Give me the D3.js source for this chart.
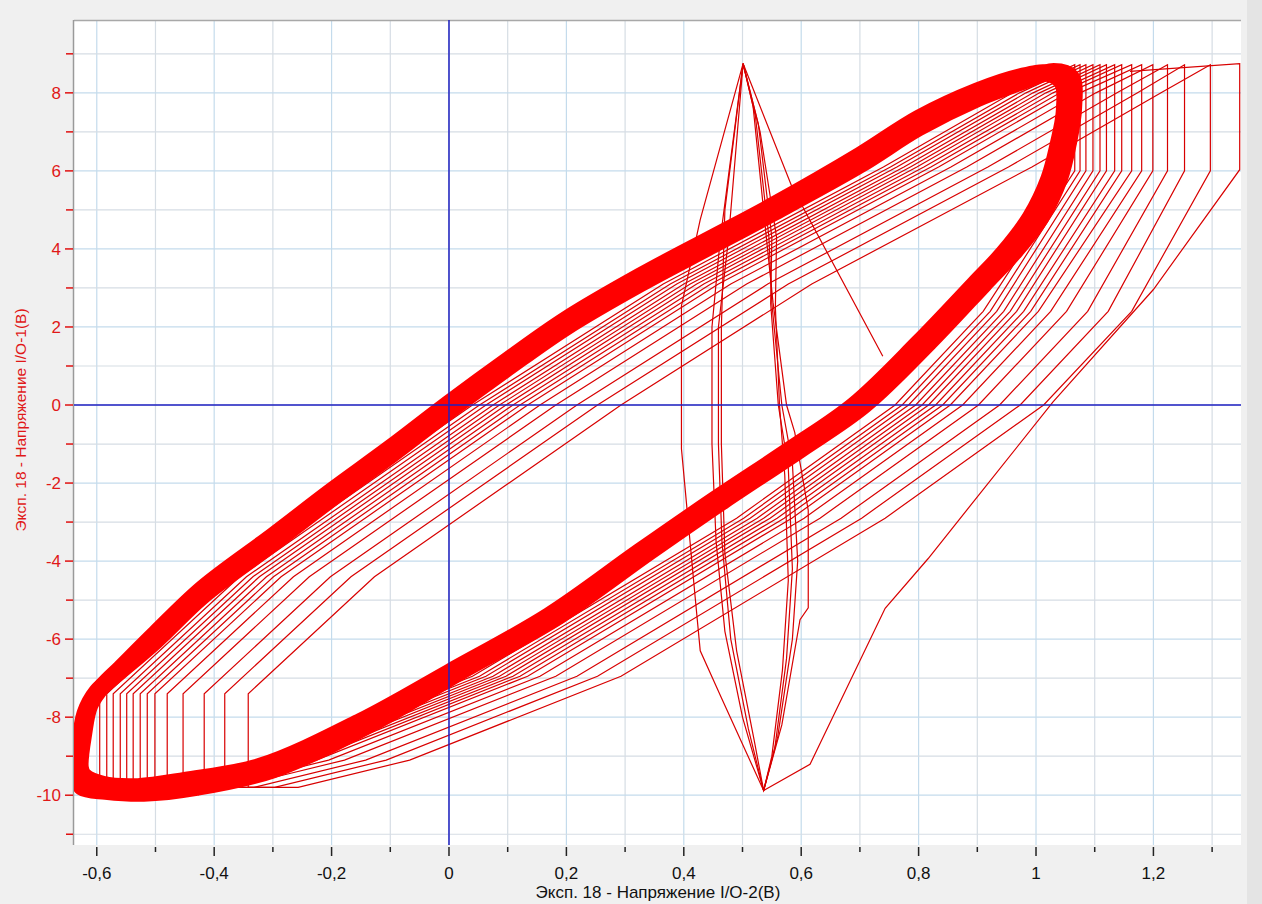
<!DOCTYPE html>
<html><head><meta charset="utf-8">
<script src="https://cdn.jsdelivr.net/npm/d3@7"></script>
<style>
html,body{margin:0;padding:0;background:#f0f0f0;}
svg{display:block;}
text{font-family:"Liberation Sans",Arial,sans-serif;}
</style></head><body>
<svg id="chart" width="1262" height="904"></svg>
<script>
// ---------- axes data ----------
const xDomain = [-0.6388, 1.3492];
const yDomain = [-11.276, 9.867];
const xTicksMajor = [-0.6, -0.4, -0.2, 0, 0.2, 0.4, 0.6, 0.8, 1, 1.2];
const xTickLabels = ["-0,6", "-0,4", "-0,2", "0", "0,2", "0,4", "0,6", "0,8", "1", "1,2"];
const xTicksMinor = [-0.5, -0.3, -0.1, 0.1, 0.3, 0.5, 0.7, 0.9, 1.1, 1.3];
const yTicksMajor = [-10, -8, -6, -4, -2, 0, 2, 4, 6, 8];
const yTickLabels = ["-10", "-8", "-6", "-4", "-2", "0", "2", "4", "6", "8"];
const yTicksMinor = [-11, -9, -7, -5, -3, -1, 1, 3, 5, 7, 9];
const xTitle = "Эксп. 18 - Напряжение I/O-2(В)";
const yTitle = "Эксп. 18 - Напряжение I/O-1(В)";

// ---------- series data (x = I/O-2 volts, y = I/O-1 volts) ----------
// steady-state hysteresis loop (dense band of many cycles)
const coreLoop = [
  [-0.628, -9.3], [-0.622, -8.4], [-0.612, -7.7], [-0.59, -7.2], [-0.56, -6.75],
  [-0.50, -5.85], [-0.42, -4.7], [-0.30, -3.35], [-0.20, -2.2], [-0.10, -1.1],
  [0.00, 0.05], [0.10, 1.15], [0.20, 2.2], [0.325, 3.3], [0.45, 4.3], [0.55, 5.1],
  [0.70, 6.4], [0.80, 7.35], [0.90, 8.05], [0.97, 8.4], [1.02, 8.5], [1.045, 8.25],
  [1.048, 7.5], [1.038, 6.7], [1.022, 5.8], [0.99, 4.8], [0.945, 3.9], [0.895, 3.1],
  [0.80, 1.6], [0.69, 0.0], [0.58, -1.15], [0.45, -2.45], [0.325, -3.75], [0.17, -5.4],
  [0.00, -6.85], [-0.15, -8.1], [-0.32, -9.25], [-0.45, -9.62], [-0.53, -9.78],
  [-0.59, -9.72], [-0.622, -9.5]
];
// neighbouring cycles that widen the band
const coreLoopB = [
  [-0.632, -9.6], [-0.628, -8.6], [-0.62, -7.9], [-0.6, -7.35], [-0.57, -6.95],
  [-0.50, -6.05], [-0.42, -4.9], [-0.30, -3.55], [-0.20, -2.4], [-0.10, -1.3],
  [0.00, -0.15], [0.10, 0.95], [0.20, 2.0], [0.325, 3.1], [0.45, 4.1], [0.55, 4.9],
  [0.70, 6.15], [0.80, 7.1], [0.90, 7.85], [0.97, 8.25], [1.03, 8.55], [1.06, 8.4],
  [1.064, 7.6], [1.055, 6.7], [1.04, 5.8], [1.008, 4.8], [0.962, 3.9], [0.912, 3.1],
  [0.818, 1.6], [0.708, 0.0], [0.598, -1.15], [0.468, -2.45], [0.343, -3.75], [0.188, -5.4],
  [0.018, -6.85], [-0.13, -8.15], [-0.30, -9.35], [-0.43, -9.8], [-0.52, -9.95],
  [-0.585, -9.9], [-0.625, -9.8]
];
const coreLoops = [coreLoop, coreLoopB];

// transient cycles, drifting toward the steady loop
const loopS1 = [[-0.342,-9.8],[-0.342,-7.4],[-0.127,-4.4],[0.293,0],[0.618,3.1],[0.993,6.1],[1.213,8.0],[1.297,8.72],[1.297,6.0],[1.163,2.4],[1.013,0],[0.743,-2.9],[0.293,-6.95],[-0.067,-9.1],[-0.257,-9.8]];
const loopS2 = [[-0.382,-9.8],[-0.382,-7.4],[-0.167,-4.4],[0.253,0],[0.578,3.1],[0.953,6.1],[1.173,8.0],[1.253,8.72],[1.253,6.0],[1.123,2.4],[0.973,0],[0.703,-2.9],[0.253,-6.95],[-0.107,-9.1],[-0.297,-9.8]];
const loopS3 = [[-0.417,-9.8],[-0.417,-7.4],[-0.202,-4.4],[0.218,0],[0.543,3.1],[0.918,6.1],[1.138,8.0],[1.224,8.72],[1.224,6.0],[1.088,2.4],[0.938,0],[0.668,-2.9],[0.218,-6.95],[-0.142,-9.1],[-0.332,-9.8]];
const loopS4 = [[-0.453,-9.8],[-0.453,-7.4],[-0.238,-4.4],[0.182,0],[0.507,3.1],[0.882,6.1],[1.102,8.0],[1.199,8.72],[1.199,6.0],[1.052,2.4],[0.902,0],[0.632,-2.9],[0.182,-6.95],[-0.178,-9.1],[-0.368,-9.8]];
const loopS5 = [[-0.48,-9.8],[-0.48,-7.4],[-0.265,-4.4],[0.155,0],[0.48,3.1],[0.855,6.1],[1.075,8.0],[1.18,8.72],[1.18,6.0],[1.025,2.4],[0.875,0],[0.605,-2.9],[0.155,-6.95],[-0.205,-9.1],[-0.395,-9.8]];
const loopS6 = [[-0.501,-9.8],[-0.501,-7.4],[-0.286,-4.4],[0.134,0],[0.459,3.1],[0.834,6.1],[1.054,8.0],[1.163,8.72],[1.163,6.0],[1.004,2.4],[0.854,0],[0.584,-2.9],[0.134,-6.95],[-0.226,-9.1],[-0.416,-9.8]];
const loopS7 = [[-0.514,-9.8],[-0.514,-7.4],[-0.299,-4.4],[0.121,0],[0.446,3.1],[0.821,6.1],[1.041,8.0],[1.146,8.72],[1.146,6.0],[0.991,2.4],[0.841,0],[0.571,-2.9],[0.121,-6.95],[-0.239,-9.1],[-0.429,-9.8]];
const loopS8 = [[-0.526,-9.8],[-0.526,-7.4],[-0.311,-4.4],[0.109,0],[0.434,3.1],[0.809,6.1],[1.029,8.0],[1.134,8.72],[1.134,6.0],[0.979,2.4],[0.829,0],[0.559,-2.9],[0.109,-6.95],[-0.251,-9.1],[-0.441,-9.8]];
const loopS9 = [[-0.538,-9.8],[-0.538,-7.4],[-0.323,-4.4],[0.097,0],[0.422,3.1],[0.797,6.1],[1.017,8.0],[1.12,8.72],[1.12,6.0],[0.967,2.4],[0.817,0],[0.547,-2.9],[0.097,-6.95],[-0.263,-9.1],[-0.453,-9.8]];
const loopS10 = [[-0.549,-9.8],[-0.549,-7.4],[-0.334,-4.4],[0.086,0],[0.411,3.1],[0.786,6.1],[1.006,8.0],[1.109,8.72],[1.109,6.0],[0.956,2.4],[0.806,0],[0.536,-2.9],[0.086,-6.95],[-0.274,-9.1],[-0.464,-9.8]];
const loopS11 = [[-0.56,-9.8],[-0.56,-7.4],[-0.345,-4.4],[0.075,0],[0.4,3.1],[0.775,6.1],[0.995,8.0],[1.097,8.72],[1.097,6.0],[0.945,2.4],[0.795,0],[0.525,-2.9],[0.075,-6.95],[-0.285,-9.1],[-0.475,-9.8]];
const loopS12 = [[-0.572,-9.8],[-0.572,-7.4],[-0.357,-4.4],[0.063,0],[0.388,3.1],[0.763,6.1],[0.983,8.0],[1.085,8.72],[1.085,6.0],[0.933,2.4],[0.783,0],[0.513,-2.9],[0.063,-6.95],[-0.297,-9.1],[-0.487,-9.8]];
const loopS13 = [[-0.583,-9.8],[-0.583,-7.4],[-0.368,-4.4],[0.052,0],[0.377,3.1],[0.752,6.1],[0.972,8.0],[1.075,8.72],[1.075,6.0],[0.922,2.4],[0.772,0],[0.502,-2.9],[0.052,-6.95],[-0.308,-9.1],[-0.498,-9.8]];
const loopS14 = [[-0.595,-9.8],[-0.595,-7.4],[-0.38,-4.4],[0.04,0],[0.365,3.1],[0.74,6.1],[0.96,8.0],[1.066,8.72],[1.066,6.0],[0.91,2.4],[0.76,0],[0.49,-2.9],[0.04,-6.95],[-0.32,-9.1],[-0.51,-9.8]];
const transientLoops = [loopS1, loopS2, loopS3, loopS4, loopS5, loopS6, loopS7, loopS8, loopS9, loopS10, loopS11, loopS12, loopS13, loopS14];

// initial cycles where I/O-2 barely moves (lens shapes)
const lens1 = [[0.501,8.75],[0.428,4.75],[0.396,2.54],[0.396,-1.12],[0.419,-4.87],[0.428,-6.3],[0.464,-7.5],[0.536,-9.88],[0.567,-8.2],[0.598,-5.5],[0.612,-5.2],[0.612,-2.7],[0.589,-0.7],[0.575,0],[0.552,2.63],[0.541,4.24],[0.518,7.66]];
const lens2 = [[0.501,8.75],[0.462,4.24],[0.448,2.0],[0.448,-1.0],[0.455,-3.5],[0.47,-5.8],[0.50,-8.0],[0.536,-9.88],[0.56,-8.5],[0.585,-6.0],[0.594,-4.0],[0.585,-1.5],[0.567,0],[0.55,2.6],[0.545,4.3],[0.522,7.4]];
const lens3 = [[0.501,8.75],[0.476,4.24],[0.459,2.0],[0.459,-1.0],[0.465,-3.5],[0.48,-6.0],[0.51,-8.3],[0.536,-9.88],[0.555,-8.8],[0.575,-6.5],[0.585,-4.2],[0.578,-1.6],[0.561,0],[0.548,2.6],[0.55,4.3],[0.527,7.2]];
const lens4 = [[0.501,8.75],[0.47,5.0],[0.464,2.0],[0.464,-1.0],[0.47,-3.8],[0.49,-6.3],[0.52,-8.6],[0.536,-9.88],[0.55,-9.0],[0.568,-6.8],[0.578,-4.5],[0.572,-1.8],[0.563,0],[0.556,2.5],[0.558,4.3],[0.53,7.0]];
const lensLoops = [lens1, lens2, lens3, lens4];
const lensTopLink = [[0.501,8.75],[0.584,5.6],[0.739,1.25]];
const lensBottomLink = [[1.16,8.55],[1.347,8.75],[1.347,6.03],[1.2,2.96],[1.029,0.08],[0.816,-3.94],[0.743,-5.21],[0.615,-9.21],[0.536,-9.88]];

// ---------- layout ----------
const plot = {left: 74, right: 1241, top: 20, bottom: 845};
const svg = d3.select("#chart");
const x = d3.scaleLinear().domain(xDomain).range([plot.left, plot.right]);
const y = d3.scaleLinear().domain(yDomain).range([plot.bottom, plot.top]);

svg.append("rect").attr("x", 0).attr("y", 0).attr("width", 1262).attr("height", 904).attr("fill", "#f0f0f0");
svg.append("rect").attr("x", 1247).attr("y", 0).attr("width", 15).attr("height", 904).attr("fill", "#e4e4e4");
svg.append("rect").attr("x", plot.left).attr("y", plot.top)
   .attr("width", plot.right - plot.left).attr("height", plot.bottom - plot.top).attr("fill", "#ffffff");

svg.append("clipPath").attr("id", "clip").append("rect")
   .attr("x", plot.left).attr("y", plot.top)
   .attr("width", plot.right - plot.left).attr("height", plot.bottom - plot.top);

// grid
const grid = svg.append("g");
grid.selectAll(".gx").data(xTicksMajor.concat(xTicksMinor)).enter().append("line")
  .attr("x1", d => x(d)).attr("x2", d => x(d)).attr("y1", plot.top).attr("y2", plot.bottom)
  .attr("stroke", (d, i) => i < xTicksMajor.length ? "#c4dbec" : "#d6dde4").attr("stroke-width", 1.2);
grid.selectAll(".gy").data(yTicksMajor.concat(yTicksMinor)).enter().append("line")
  .attr("y1", d => y(d)).attr("y2", d => y(d)).attr("x1", plot.left).attr("x2", plot.right)
  .attr("stroke", (d, i) => i < yTicksMajor.length ? "#c4dbec" : "#d6dde4").attr("stroke-width", 1.2);

// frame
svg.append("line").attr("x1", plot.left).attr("x2", plot.right).attr("y1", plot.top + 0.5).attr("y2", plot.top + 0.5)
   .attr("stroke", "#a8a8a8").attr("stroke-width", 1.5);
svg.append("line").attr("x1", plot.left - 0.5).attr("x2", plot.left - 0.5).attr("y1", plot.top).attr("y2", plot.bottom)
   .attr("stroke", "#9a9a9a").attr("stroke-width", 1.5);

const data = svg.append("g").attr("clip-path", "url(#clip)");
const lineOpen = d3.line().x(d => x(d[0])).y(d => y(d[1]));
const lineClosed = d3.line().x(d => x(d[0])).y(d => y(d[1])).curve(d3.curveLinearClosed);
const lineSmoothClosed = d3.line().x(d => x(d[0])).y(d => y(d[1])).curve(d3.curveCatmullRomClosed.alpha(0.5));

// transient cycles
data.selectAll(".tl").data(transientLoops).enter().append("path")
  .attr("d", d => lineClosed(d)).attr("fill", "none")
  .attr("stroke", "#d80000").attr("stroke-width", 1.2);

data.selectAll(".lens").data(lensLoops).enter().append("path")
  .attr("d", d => lineClosed(d)).attr("fill", "none")
  .attr("stroke", "#d80000").attr("stroke-width", 1.2);
data.append("path").attr("d", lineOpen(lensTopLink)).attr("fill", "none").attr("stroke", "#d80000").attr("stroke-width", 1.2);
data.append("path").attr("d", lineOpen(lensBottomLink)).attr("fill", "none").attr("stroke", "#d80000").attr("stroke-width", 1.2);

// thick steady band
data.selectAll(".core").data(coreLoops).enter().append("path")
  .attr("d", d => lineSmoothClosed(d)).attr("fill", "none")
  .attr("stroke", "#ff0000").attr("stroke-width", 17).attr("stroke-linejoin", "round");

// zero crosshair
data.append("line").attr("x1", x(0)).attr("x2", x(0)).attr("y1", plot.top).attr("y2", plot.bottom)
  .attr("stroke", "#2020c0").attr("stroke-width", 1.5);
data.append("line").attr("y1", y(0)).attr("y2", y(0)).attr("x1", plot.left).attr("x2", plot.right)
  .attr("stroke", "#2020c0").attr("stroke-width", 1.5);

// x axis ticks
const ax = svg.append("g");
ax.selectAll(".xtM").data(xTicksMajor).enter().append("line")
  .attr("x1", d => x(d)).attr("x2", d => x(d)).attr("y1", plot.bottom + 2).attr("y2", plot.bottom + 11)
  .attr("stroke", "#222").attr("stroke-width", 1.5);
ax.selectAll(".xtm").data(xTicksMinor).enter().append("line")
  .attr("x1", d => x(d)).attr("x2", d => x(d)).attr("y1", plot.bottom + 2).attr("y2", plot.bottom + 7)
  .attr("stroke", "#222").attr("stroke-width", 1.5);
ax.selectAll(".xl").data(xTicksMajor).enter().append("text")
  .attr("x", d => x(d)).attr("y", plot.bottom + 34).attr("text-anchor", "middle")
  .attr("font-size", 17).attr("fill", "#111").text((d, i) => xTickLabels[i]);

// y axis ticks
ax.selectAll(".ytM").data(yTicksMajor).enter().append("line")
  .attr("y1", d => y(d)).attr("y2", d => y(d)).attr("x1", plot.left - 9).attr("x2", plot.left - 1)
  .attr("stroke", "#e01010").attr("stroke-width", 1.5);
ax.selectAll(".ytm").data(yTicksMinor).enter().append("line")
  .attr("y1", d => y(d)).attr("y2", d => y(d)).attr("x1", plot.left - 8).attr("x2", plot.left - 1)
  .attr("stroke", "#e01010").attr("stroke-width", 1.5);
ax.selectAll(".yl").data(yTicksMajor).enter().append("text")
  .attr("x", plot.left - 13).attr("y", d => y(d)).attr("dy", "0.36em").attr("text-anchor", "end")
  .attr("font-size", 17).attr("fill", "#e01818").text((d, i) => yTickLabels[i]);

// titles
svg.append("text").attr("x", 658).attr("y", 898).attr("text-anchor", "middle")
  .attr("font-size", 17).attr("fill", "#111").text(xTitle);
svg.append("text").attr("transform", "translate(26,420) rotate(-90)").attr("text-anchor", "middle")
  .attr("font-size", 15.5).attr("fill", "#e01818").text(yTitle);
</script>
</body></html>
